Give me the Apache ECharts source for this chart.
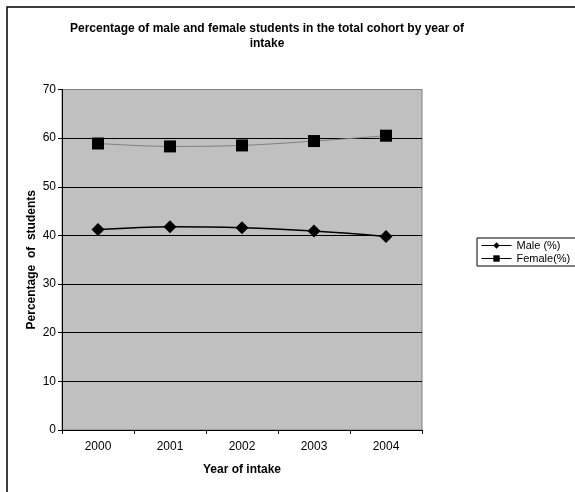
<!DOCTYPE html>
<html>
<head>
<meta charset="utf-8">
<script src="https://cdn.jsdelivr.net/npm/echarts@6/dist/echarts.min.js"></script>
<style>html,body{margin:0;padding:0;background:#fff}#c{width:575px;height:492px}</style>
</head>
<body>
<div id="c"></div>
<script>
const years = ['2000', '2001', '2002', '2003', '2004'];
const maleValues = [41.2, 41.8, 41.6, 40.9, 39.8];
const femaleValues = [58.9, 58.3, 58.5, 59.4, 60.5];
const seriesNames = ['Male (%)', 'Female(%)'];
const titleLines = ['Percentage of male and female students in the total cohort by year of', 'intake'];
const xAxisTitle = 'Year of intake';
const yAxisTitle = 'Percentage  of  students';

const font = '"Liberation Sans", Arial, sans-serif';
const chart = echarts.init(document.getElementById('c'), null, {renderer: 'canvas'});
chart.setOption({
  animation: false,
  backgroundColor: '#ffffff',
  graphic: [
    {type: 'rect', shape: {x: 7, y: 7, width: 700, height: 700}, style: {fill: 'none', stroke: '#000', lineWidth: 1.5}, silent: true},
    {type: 'text', x: 267, y: 21, style: {text: titleLines.join('\n'), font: 'bold 12px ' + font, fill: '#000', align: 'center', textAlign: 'center', lineHeight: 15}, silent: true}
  ],
  grid: {left: 62, right: 153, top: 89.5, bottom: 62, show: true, backgroundColor: '#c0c0c0', borderColor: '#808080', borderWidth: 1},
  legend: {
    orient: 'vertical', left: 477, top: 238,
    padding: [2, 8, 2, 4], itemGap: 2,
    borderColor: '#000', borderWidth: 1,
    itemWidth: 30, itemHeight: 8,
    textStyle: {fontFamily: font, fontSize: 11, color: '#000'},
    data: seriesNames.map(n => ({name: n, lineStyle: {color: '#000', width: 1}}))
  },
  xAxis: {
    type: 'category', data: years, boundaryGap: true,
    name: xAxisTitle, nameLocation: 'middle', nameGap: 34, nameMoveOverlap: false,
    nameTextStyle: {fontFamily: font, fontSize: 12, fontWeight: 'bold', color: '#000'},
    axisLine: {lineStyle: {color: '#000', width: 1}},
    axisTick: {show: true, length: 4, lineStyle: {color: '#000'}},
    axisLabel: {fontFamily: font, fontSize: 12, color: '#000', margin: 11},
    splitLine: {show: false}
  },
  yAxis: {
    type: 'value', min: 0, max: 70, interval: 10,
    name: yAxisTitle, nameLocation: 'middle', nameGap: 24, nameMoveOverlap: false,
    nameTextStyle: {fontFamily: font, fontSize: 12, fontWeight: 'bold', color: '#000'},
    axisLine: {show: true, lineStyle: {color: '#000', width: 1}},
    axisTick: {show: true, length: 4, lineStyle: {color: '#000'}},
    axisLabel: {fontFamily: font, fontSize: 12, color: '#000', margin: 6},
    splitLine: {show: true, lineStyle: {color: ['#000', '#000', '#000', '#000', '#000', '#000', '#000', '#808080'], width: 1}}
  },
  series: [
    {
      name: seriesNames[0], type: 'line', data: maleValues, smooth: 0.35,
      symbol: 'diamond', symbolSize: 13,
      lineStyle: {color: '#000', width: 1.5},
      itemStyle: {color: '#000'}
    },
    {
      name: seriesNames[1], type: 'line', data: femaleValues, smooth: 0.35,
      symbol: 'rect', symbolSize: 12,
      lineStyle: {color: '#808080', width: 1},
      itemStyle: {color: '#000'}
    }
  ]
});
</script>
</body>
</html>
